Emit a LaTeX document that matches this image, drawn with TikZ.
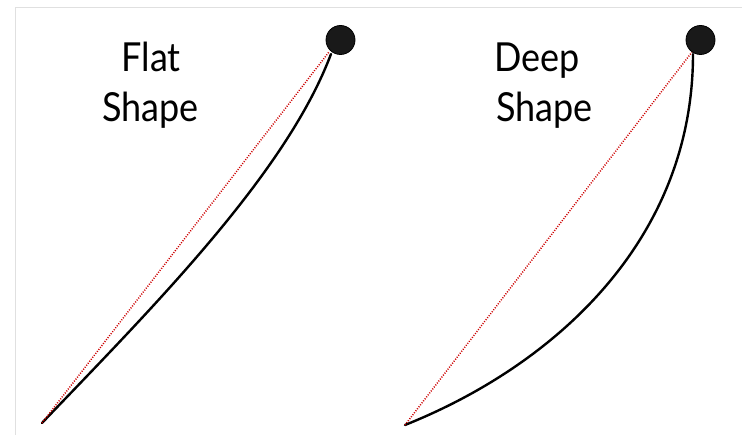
\documentclass[tikz,border=0pt]{standalone}
\usepackage{fontspec}
\setmainfont[FakeStretch=0.9]{Lato}
\begin{document}
\begin{tikzpicture}[x=1pt,y=1pt,
  ball/.style={circle, fill=black!90, draw=black, line width=0.8pt, minimum size=29pt, inner sep=0pt},
  rope/.style={line width=2.4pt, black, line cap=round},
  chord/.style={red!80!black, line width=1.5pt, dash pattern=on 1pt off 1.5pt},
  lbl/.style={font=\fontsize{40}{40}\selectfont, inner sep=0pt},
  frame/.style={draw=black!12, line width=1.5pt}]
\useasboundingbox (0,0) rectangle (742,435);
\draw[frame] (15.5,0) -- (15.5,427.7) -- (742,427.7);

% left: flat shape
\coordinate (fbase) at (42,12);
\coordinate (ftop) at (331,381);
\coordinate (fchord) at (329,383);
\draw[rope] (fbase) .. controls (152,127) and (286,261) .. (ftop);
\draw[chord] (fbase) -- (fchord);
\node[ball] (fball) at (340.5,395) {};
\node[lbl, anchor=base] (flat) at (151,363) {Flat};
\node[lbl, anchor=base] (fshape) at (150.5,313) {Shape};

% right: deep shape
\coordinate (dbase) at (405,10);
\coordinate (dtop) at (693,381);
\coordinate (dchord) at (692,383);
\draw[rope] (dbase) .. controls (555,70) and (693,195) .. (dtop);
\draw[chord] (dbase) -- (dchord);
\node[ball] (dball) at (700.5,395) {};
\node[lbl, anchor=base west] (deep) at (494,363) {Deep};
\node[lbl, anchor=base west] (dshape) at (496,313) {Shape};
\end{tikzpicture}
\end{document}
